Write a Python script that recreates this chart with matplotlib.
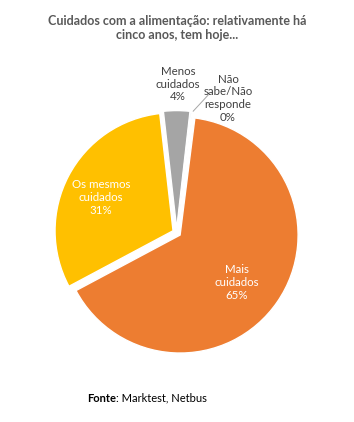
import matplotlib
matplotlib.use("Agg")
import matplotlib.pyplot as plt

# Data
categories = ["Mais\ncuidados", "Os mesmos\ncuidados", "Menos\ncuidados", "Não\nsabe/Não\nresponde"]
values = [65.2, 31.0, 3.6, 0.2]
colors = ["#ED7D31", "#FFC000", "#A5A5A5", "#5B9BD5"]
title = "Cuidados com a alimentação: relativamente há\ncinco anos, tem hoje..."
source_bold = "Fonte"
source_rest = ": Marktest, Netbus"

FONT = "Lato"
W, H = 354, 422
fig = plt.figure(figsize=(W / 100, H / 100), dpi=100)
fig.patch.set_facecolor("white")
renderer = fig.canvas.get_renderer()

# fit label font so that "Os mesmos" is ~58 px wide (as in reference)
probe = fig.text(0, 0, "Os mesmos", fontsize=10, family=FONT)
pw = probe.get_window_extent(renderer).width
probe.remove()
lab_fs = 10 * 58.5 / pw
lab_ls = 15.0 / (lab_fs * 100 / 72) / 1.2 * 1.1

# axes placement (pixels)
cx, cy_top, r_px = 176.7, 232.7, 118.0
L = 1.45
size = 2 * L * r_px
cy = H - cy_top
ax = fig.add_axes([(cx - size / 2) / W, (cy - size / 2) / H, size / W, size / H])

wedges, _ = ax.pie(values, colors=colors, startangle=82.8, counterclock=False,
                   explode=[0.035] * len(values), radius=1.0,
                   wedgeprops=dict(edgecolor="white", linewidth=1.0))
for w in wedges:
    w.set_clip_on(False)
ax.set_aspect("auto")
ax.set_xlim(-L, L)
ax.set_ylim(-L, L)
ax.axis("off")

labels = [f"{c}\n{v:.0f}%" for c, v in zip(categories, values)]
label_pos = [(0.51, -0.42), (-0.64, 0.30), (0.01, 1.26), (0.435, 1.14)]
label_col = ["white", "white", "#404040", "#404040"]
for lab, (x, y), col in zip(labels, label_pos, label_col):
    ax.text(x, y, lab, ha="center", va="center", color=col, fontsize=lab_fs,
            family=FONT, linespacing=lab_ls)

# leader line for the 0% slice
ax.plot([0.265, 0.14], [1.165, 1.03], color="#A6A6A6", lw=0.7, clip_on=False)

fig.text(0.5, 1 - 28 / H, title, ha="center", va="center", fontsize=9,
         fontweight="bold", color="#595959", family=FONT, linespacing=1.2)

t1 = fig.text(87 / W, 1 - 398 / H, source_bold, ha="left", va="center",
              fontsize=8.0, fontweight="bold", color="black", family=FONT)
ax.annotate(source_rest, xy=(1, 0.5), xycoords=t1, ha="left", va="center",
            fontsize=8.0, color="black", family=FONT, annotation_clip=False)

fig.savefig("out.png", dpi=100, facecolor="white")
